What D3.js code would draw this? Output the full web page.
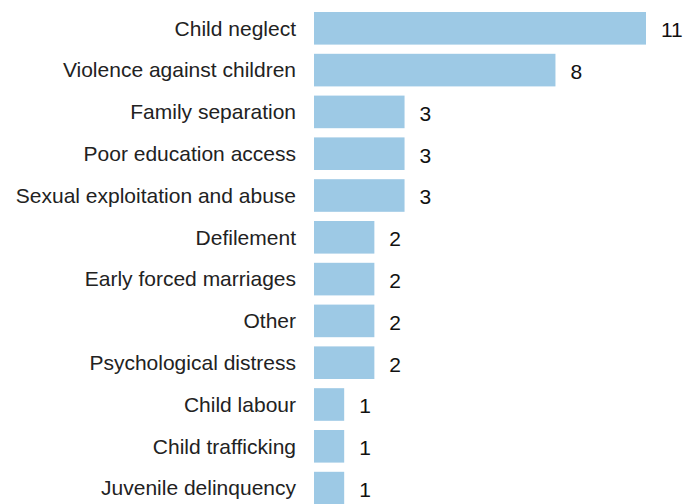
<!DOCTYPE html>
<meta charset="utf-8">
<body style="margin:0">
<script src="https://cdn.jsdelivr.net/npm/d3@7"></script>
<script>
var categories = ["Child neglect","Violence against children","Family separation","Poor education access",
  "Sexual exploitation and abuse","Defilement","Early forced marriages","Other","Psychological distress",
  "Child labour","Child trafficking","Juvenile delinquency"];
var values = [11,8,3,3,3,2,2,2,2,1,1,1];

var svg = d3.select("body").append("svg").attr("width",685).attr("height",504)
  .style("font-family","Liberation Sans, Arial, sans-serif");

var x = d3.scaleLinear().domain([0,11]).range([314,646]);
var y = d3.scaleBand().domain(categories).range([12,504.4]).paddingInner(0.22).paddingOuter(0);

var g = svg.selectAll("g.row").data(categories).enter().append("g").attr("class","row");

g.append("rect")
  .attr("x", x(0))
  .attr("y", function(d){return y(d);})
  .attr("width", function(d,i){return x(values[i]) - x(0);})
  .attr("height", y.bandwidth())
  .attr("fill","#9dc9e5");

g.append("text")
  .attr("x", 296)
  .attr("y", function(d){return y(d) + y.bandwidth()/2;})
  .attr("dy","0.35em")
  .attr("text-anchor","end")
  .attr("font-size",21)
  .attr("fill","#222")
  .text(function(d){return d;});

g.append("text")
  .attr("x", function(d,i){return x(values[i]) + 15;})
  .attr("y", function(d){return y(d) + y.bandwidth()/2 + 1.5;})
  .attr("dy","0.35em")
  .attr("font-size",21)
  .attr("fill","#111")
  .text(function(d,i){return values[i];});
</script>
</body>
</html>
